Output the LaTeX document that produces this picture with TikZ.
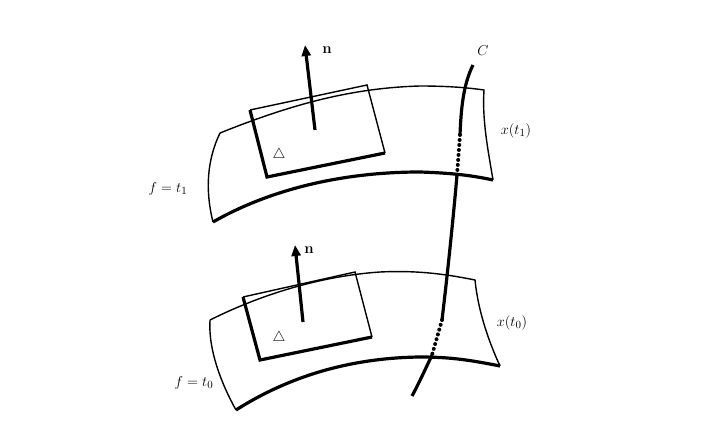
\documentclass[tikz,border=0pt]{standalone}
\usetikzlibrary{arrows.meta}
\begin{document}
\begin{tikzpicture}[x=1pt,y=-1pt,
 thin/.style={line width=1.4pt},
 thick/.style={line width=3.2pt},
 dots/.style={line width=4pt,line cap=round,dash pattern=on 0pt off 5pt},
 lbl/.style={inner sep=1pt,font=\fontsize{15}{17}\selectfont}]
\useasboundingbox (0,0) rectangle (717,422);
% top surface
\draw[thin] (220,133) .. controls (290,105) and (350,88) .. (420,86) .. controls (450,86) and (470,88) .. (484,90)
  .. controls (482,120) and (488,150) .. (493,180);
\draw[thin] (213,222) .. controls (205,190) and (207,160) .. (220,133);
\draw[thick] (493,180) .. controls (470,175) and (450,173) .. (420,172) .. controls (330,172) and (260,195) .. (213,222);
% top plane
\draw[thin] (250,110) -- (367,85) -- (385,153);
\draw[thick] (385,153) -- (267,177) -- (250,110);
\node[lbl] (tr1) at (279,155) {$\triangle$};
\coordinate (b1) at (315,130);
\coordinate (a1) at (305,45);
\draw[line width=3.2pt,-{Triangle[length=11pt,width=9pt]}] (b1) -- (a1);
\node[lbl,font=\fontsize{15}{17}\selectfont\bfseries] (n1) at (327,50) {n};
% bottom surface
\draw[thin] (210,320) .. controls (260,295) and (320,276) .. (380,272) .. controls (420,270) and (450,275) .. (475,280)
  .. controls (478,310) and (488,340) .. (500,366);
\draw[thin] (236,410) .. controls (222,385) and (208,350) .. (210,320);
\draw[thick] (500,366) .. controls (470,360) and (450,357) .. (420,357) .. controls (340,358) and (280,382) .. (236,410);
\draw[thin] (243,297) -- (355,272) -- (372,337);
\draw[thick] (372,337) -- (260,360) -- (243,297);
\node[lbl] (tr0) at (279,338) {$\triangle$};
\coordinate (b0) at (303,322);
\coordinate (a0) at (295,245);
\draw[line width=3.2pt,-{Triangle[length=11pt,width=9pt]}] (b0) -- (a0);
\node[lbl,font=\fontsize{15}{17}\selectfont\bfseries] (n0) at (309,250) {n};
% curve C
\coordinate (c0) at (473,65);
\coordinate (c1) at (460,135);
\coordinate (c2) at (457,175);
\coordinate (c3) at (442,320);
\coordinate (c4) at (432,355);
\coordinate (c5) at (412,396);
\draw[thick] (c0) .. controls (463,85) and (461,110) .. (c1);
\draw[dots] (c1) -- (c2);
\draw[thick] (c2) .. controls (454,210) and (448,270) .. (c3);
\draw[dots] (c3) -- (c4);
\draw[thick] (c4) .. controls (425,370) and (418,385) .. (c5);
\node[lbl] (C) at (483,51) {$C$};
\node[lbl] (x1) at (516,131) {$x(t_1)$};
\node[lbl] (x0) at (512,323) {$x(t_0)$};
\node[lbl] (f1) at (168,189) {$f=t_1$};
\node[lbl] (f0) at (194,383) {$f=t_0$};
\end{tikzpicture}
\end{document}
